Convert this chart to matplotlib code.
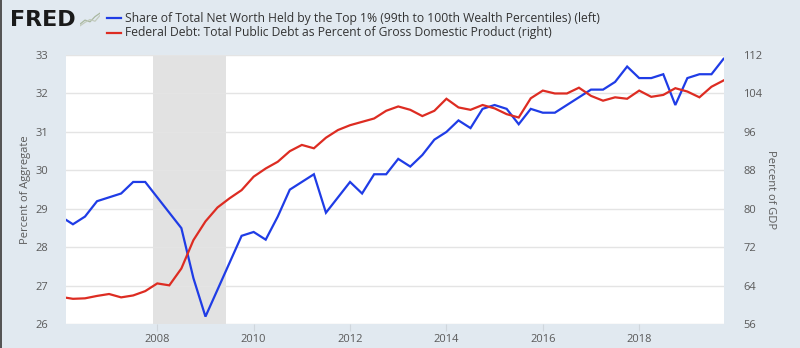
import matplotlib
matplotlib.use("Agg")
import matplotlib.pyplot as plt
import numpy as np

# ---- data (quarterly, 2006Q1 .. 2019Q4) ----
years = [2006 + q * 0.25 for q in range(56)]
top1_share = [
    28.8, 28.6, 28.8, 29.2,
    29.3, 29.4, 29.7, 29.7,
    29.3, 28.9, 28.5, 27.2,
    26.2, 26.9, 27.6, 28.3,
    28.4, 28.2, 28.8, 29.5,
    29.7, 29.9, 28.9, 29.3,
    29.7, 29.4, 29.9, 29.9,
    30.3, 30.1, 30.4, 30.8,
    31.0, 31.3, 31.1, 31.6,
    31.7, 31.6, 31.2, 31.6,
    31.5, 31.5, 31.7, 31.9,
    32.1, 32.1, 32.3, 32.7,
    32.4, 32.4, 32.5, 31.7,
    32.4, 32.5, 32.5, 32.9,
]
debt_gdp = [
    61.7, 61.3, 61.4, 61.9,
    62.3, 61.6, 62.0, 62.9,
    64.5, 64.1, 67.6, 73.5,
    77.4, 80.3, 82.2, 83.9,
    86.7, 88.4, 89.8, 92.0,
    93.3, 92.6, 94.8, 96.4,
    97.4, 98.1, 98.8, 100.4,
    101.3, 100.6, 99.3, 100.4,
    102.9, 101.1, 100.6, 101.6,
    100.9, 99.7, 99.0, 103.0,
    104.6, 104.0, 104.0, 105.2,
    103.5, 102.5, 103.2, 102.9,
    104.6, 103.3, 103.7, 105.1,
    104.4, 103.2, 105.4, 106.7,
]
recession = (2007 + 11 / 12, 2009 + 5 / 12)
left_ticks = [26, 27, 28, 29, 30, 31, 32, 33]
right_ticks = [56, 64, 72, 80, 88, 96, 104, 112]
x_ticks = [2008, 2010, 2012, 2014, 2016, 2018]

label_blue = "Share of Total Net Worth Held by the Top 1% (99th to 100th Wealth Percentiles) (left)"
label_red = "Federal Debt: Total Public Debt as Percent of Gross Domestic Product (right)"

BG = "#e1e9f0"
BLUE = "#1f3ce6"
RED = "#dd2c22"
GRID = "#e4e4e4"
TICKC = "#5a5a5a"

plt.rcParams["font.family"] = ["Open Sans", "DejaVu Sans"]

fig = plt.figure(figsize=(8.0, 3.48), dpi=100)
fig.patch.set_facecolor(BG)

ax = fig.add_axes([66 / 800, 1 - 324.3 / 348, (724 - 66) / 800, (324.3 - 55) / 348])
ax.set_facecolor("white")
ax2 = ax.twinx()

ax.axvspan(recession[0], recession[1], color="#e2e2e2", lw=0, zorder=0)

ax.plot(years, top1_share, color=BLUE, lw=1.6, zorder=3, solid_joinstyle="miter")
ax2.plot(years, debt_gdp, color=RED, lw=1.6, zorder=3, solid_joinstyle="miter")

ax.set_xlim(2006.106, 2019.76)
ax.set_ylim(26, 33)
ax2.set_ylim(56, 112)

ax.set_yticks(left_ticks)
ax2.set_yticks(right_ticks)
ax.set_xticks(x_ticks)
ax.set_xticklabels([str(t) for t in x_ticks])

for t in left_ticks:
    ax.axhline(t, color=GRID, lw=1.0, zorder=1)

for a in (ax, ax2):
    for s in a.spines.values():
        s.set_visible(False)

ax.tick_params(axis="y", length=0, pad=13, labelsize=8, labelcolor=TICKC)
ax2.tick_params(axis="y", length=0, pad=14, labelsize=8, labelcolor=TICKC)
ax.tick_params(axis="x", length=5, width=0.8, color="#cfd6dc", pad=2,
               labelsize=8, labelcolor=TICKC)

ax.set_ylabel("Percent of Aggregate", fontsize=8, color=TICKC, labelpad=3)
ax2.set_ylabel("Percent of GDP", fontsize=8, color=TICKC, rotation=270, labelpad=10)

# header: FRED logo + legend
fig.text(10 / 800, 1 - 20 / 348, "FRED", fontsize=16, fontweight="heavy",
         family="DejaVu Sans", color="#1a1a1a", va="center", ha="left")
icon = fig.add_axes([80 / 800, 1 - 27 / 348, 20 / 800, 15 / 348])
icon.set_facecolor("#dfe3e4")
icon.plot([0, 1, 2, 3, 4], [0.5, 1.2, 0.9, 1.8, 2.4], color="#a9b8a0", lw=0.9)
icon.plot([0, 1, 2, 3, 4], [0.2, 0.8, 1.3, 1.0, 2.0], color="#c2cbbd", lw=0.9)
icon.set_xlim(0, 4)
icon.set_ylim(0, 2.6)
icon.axis("off")

fig.lines.append(plt.Line2D([107 / 800, 121 / 800], [1 - 18.3 / 348] * 2,
                            transform=fig.transFigure, color=BLUE, lw=1.6))
fig.lines.append(plt.Line2D([107 / 800, 121 / 800], [1 - 32.5 / 348] * 2,
                            transform=fig.transFigure, color=RED, lw=1.6))
fig.text(125 / 800, 1 - 18.3 / 348, label_blue, fontsize=8.7, color="#333333",
         va="center", ha="left")
fig.text(125 / 800, 1 - 32.5 / 348, label_red, fontsize=8.7, color="#333333",
         va="center", ha="left")

# left border of image
fig.add_artist(plt.Rectangle((0, 0), 2 / 800, 1, transform=fig.transFigure,
                             color="#555555", lw=0))

fig.savefig("out.png", dpi=100, facecolor=BG)
